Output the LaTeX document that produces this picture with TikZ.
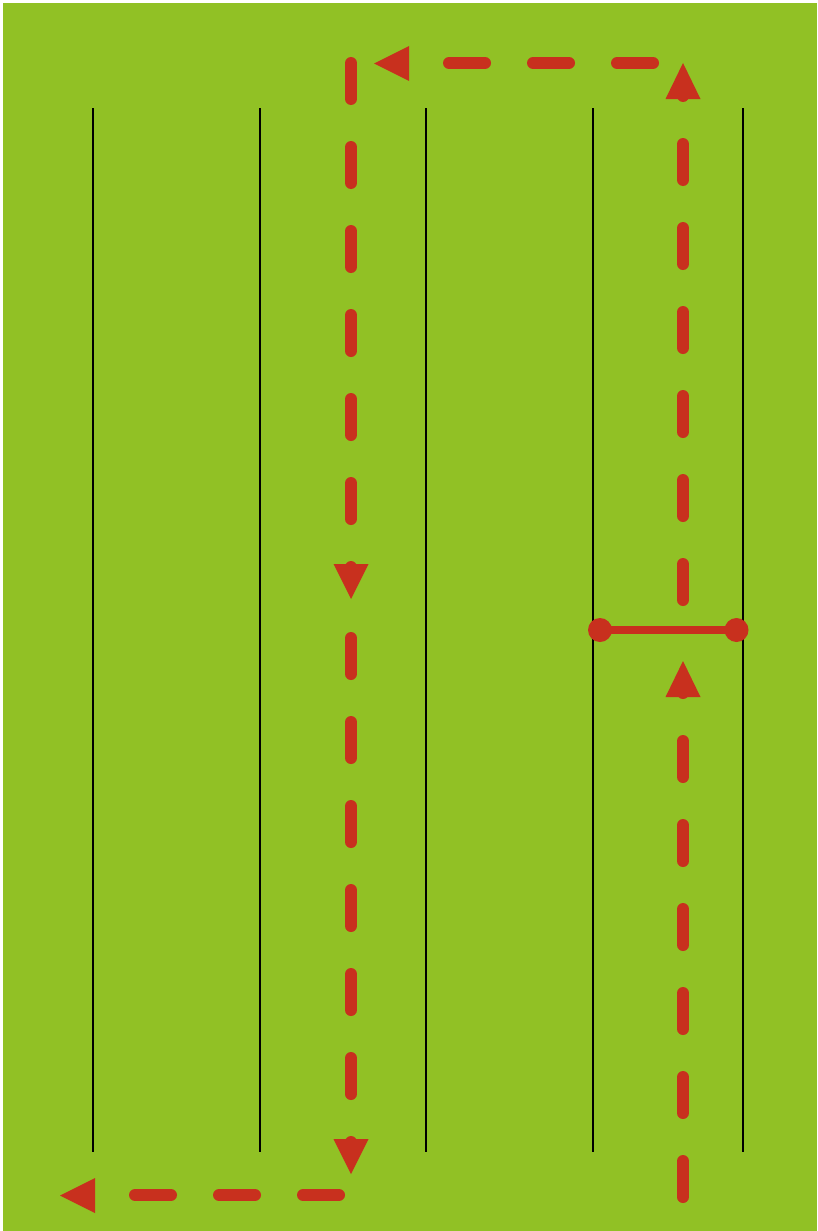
\documentclass[tikz,border=0pt]{standalone}
\definecolor{field}{RGB}{145,193,37}
\definecolor{run}{RGB}{200,48,30}
\begin{document}
\begin{tikzpicture}[x=1pt,y=-1pt,
  lane/.style={black,line width=2.5pt},
  dashseg/.style={run,line width=12pt,line cap=round},
  tipfill/.style={fill=run,draw=none},
  gate/.style={run,line width=8pt}]
\useasboundingbox (0,0) rectangle (817,1231);
\fill[white] (0,0) rectangle (817,1231);
\fill[field] (3,3) rectangle (817,1231);
% lanes
\foreach \x in {93,260,426,593,743}
  \draw[lane] (\x,108) -- (\x,1152);
% vertical run x=683 (upwards)
\foreach \y in {138,222,306,390,474,558,735,819,903,987,1071,1155}
  \draw[dashseg] (683,\y+6) -- (683,\y+42);
% vertical run x=351 (downwards)
\foreach \y in {57,141,225,309,393,477,632,716,800,884,968,1052}
  \draw[dashseg] (351,\y+6) -- (351,\y+42);
% top horizontal run y=63
\foreach \x in {443,527,611}
  \draw[dashseg] (\x+6,63) -- (\x+42,63);
% bottom horizontal run y=1195
\foreach \x in {129,213,297}
  \draw[dashseg] (\x+6,1195) -- (\x+42,1195);
% arrow bases (caps)
\fill[run] (683,693) circle (6);
\fill[run] (683,96) circle (6);
\fill[run] (351,567) circle (6);
\fill[run] (351,1142) circle (6);
% arrowheads
\fill[tipfill] (683,63) -- (700.5,99) -- (665.5,99) -- cycle;
\fill[tipfill] (683,661) -- (700.5,697) -- (665.5,697) -- cycle;
\fill[tipfill] (374,63.5) -- (409,46) -- (409,81) -- cycle;
\fill[tipfill] (351,599) -- (333.5,564) -- (368.5,564) -- cycle;
\fill[tipfill] (351,1174) -- (333.5,1139) -- (368.5,1139) -- cycle;
\fill[tipfill] (60,1195.5) -- (95,1178) -- (95,1213) -- cycle;
% gate
\coordinate (gL) at (600,630);
\coordinate (gR) at (736.5,630);
\draw[gate] (gL) -- (gR);
\fill[run] (gL) circle (12);
\fill[run] (gR) circle (12);
\end{tikzpicture}
\end{document}
